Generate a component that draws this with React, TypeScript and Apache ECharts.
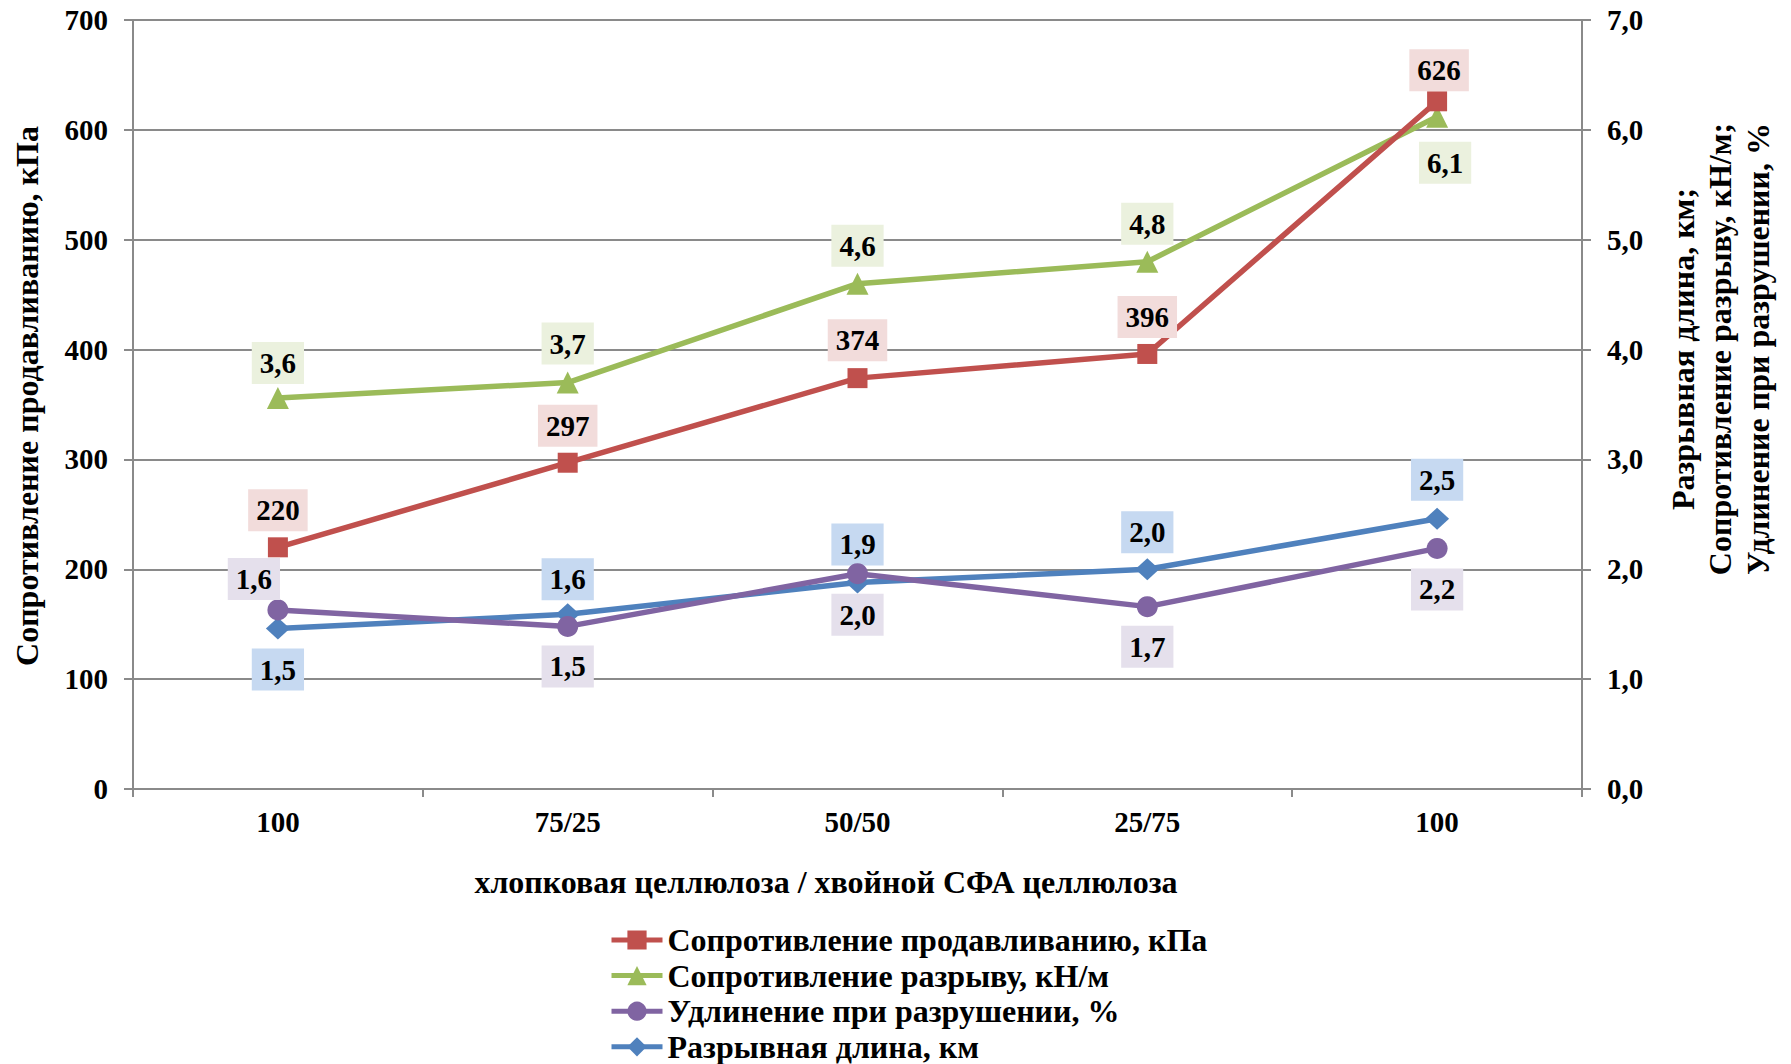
import React, { useEffect, useRef } from "react";
import * as echarts from "echarts";

const FONT = "Liberation Serif";

// ---- data ----
const categories = ["100", "75/25", "50/50", "25/75", "100"];
const burstStrength = [220, 297, 374, 396, 626]; // кПа (left axis)
const tearStrength = [3.56, 3.7, 4.6, 4.8, 6.12]; // кН/м (right axis)
const elongation = [1.63, 1.48, 1.96, 1.66, 2.19]; // % (right axis)
const breakingLength = [1.46, 1.59, 1.88, 2.0, 2.46]; // км (right axis)

const leftTicks = { min: 0, max: 700, interval: 100 };
const rightTicks = { min: 0, max: 7, interval: 1 };

const seriesNames = [
  "Сопротивление продавливанию, кПа",
  "Сопротивление разрыву, кН/м",
  "Удлинение при разрушении, %",
  "Разрывная длина, км",
];

const xTitle = "хлопковая целлюлоза / хвойной СФА целлюлоза";
const leftTitle = "Сопротивление продавливанию, кПа";
const rightTitle = "Разрывная длина, км;\nСопротивление разрыву, кН/м;\nУдлинение при разрушении, %";

// ---- styles ----
const FS = 29;
const FS_TITLE = 32;
const GRID_COLOR = "#8a8a8a";
const colors = ["#C0504D", "#9BBB59", "#8064A2", "#4F81BD"];
const labelBg = ["#F2DCDB", "#EBF1DE", "#E5E0EC", "#C6D9F1"];
const labelDx = [
  [0, 0, 0, 0, 2],
  [0, 0, 0, 0, 8],
  [-24, 0, 0, 0, 0],
  [0, 0, 0, 0, 0],
];
const labelDy = [
  [-37, -37, -38, -37, -31],
  [-35, -39, -38, -38, 46],
  [-31, 40, 41, 40, 41],
  [41, -35, -38, -37, -39],
];

const fmtLeft = (v: number) => String(Math.round(v));
const fmtRight = (v: number) => (Math.round(v * 10) / 10).toFixed(1).replace(".", ",");

export default function App() {
  const ref = useRef<HTMLDivElement>(null);
  useEffect(() => {
    const chart = echarts.init(ref.current!, null, { renderer: "svg" });
    const allData = [burstStrength, tearStrength, elongation, breakingLength];
    const symbols = ["rect", "triangle", "circle", "diamond"];
    const symbolSizes: any[] = [20, 22, 21, [24, 22]];

    const series = allData.map((arr, si) => ({
      name: seriesNames[si],
      type: "line",
      yAxisIndex: si === 0 ? 0 : 1,
      symbol: symbols[si],
      symbolSize: symbolSizes[si],
      showAllSymbol: true,
      lineStyle: { color: colors[si], width: 5.5 },
      itemStyle: { color: colors[si] },
      z: 10 - si,
      data: arr.map((v, i) => ({
        value: v,
        label: {
          show: true,
          position: "inside",
          offset: [labelDx[si][i], labelDy[si][i]],
          formatter: () => (si === 0 ? fmtLeft(v) : fmtRight(v)),
          fontFamily: FONT,
          fontWeight: "bold",
          fontSize: FS,
          lineHeight: 32,
          color: "#000",
          backgroundColor: labelBg[si],
          padding: [5, 8],
        },
      })),
    }));

    const axisText = { fontFamily: FONT, fontWeight: "bold", fontSize: FS, color: "#000" };

    const option: any = {
      animation: false,
      backgroundColor: "#fff",
      textStyle: { fontFamily: FONT },
      grid: { left: 133, top: 20, width: 1449, height: 769, containLabel: false },
      legend: {
        orient: "vertical",
        left: 609,
        top: 924,
        height: 140,
        padding: 0,
        itemWidth: 51,
        itemHeight: 24,
        itemGap: 3.6,
        selectedMode: false,
        data: seriesNames,
        lineStyle: { width: 5 },
        textStyle: { fontFamily: FONT, fontWeight: "bold", fontSize: FS_TITLE, color: "#000", lineHeight: 32 },
      },
      xAxis: {
        type: "category",
        data: categories,
        boundaryGap: true,
        axisLine: { show: true, lineStyle: { color: GRID_COLOR, width: 2 } },
        axisTick: { show: true, length: 8, alignWithLabel: false, lineStyle: { color: GRID_COLOR, width: 2 } },
        axisLabel: { ...axisText, margin: 18 },
        splitLine: { show: false },
      },
      yAxis: [
        {
          type: "value",
          position: "left",
          min: leftTicks.min,
          max: leftTicks.max,
          interval: leftTicks.interval,
          axisLine: { show: true, lineStyle: { color: GRID_COLOR, width: 2 } },
          axisTick: { show: true, length: 9, lineStyle: { color: GRID_COLOR, width: 2 } },
          axisLabel: { ...axisText, margin: 25, formatter: fmtLeft },
          splitLine: { show: true, lineStyle: { color: GRID_COLOR, width: 2 } },
        },
        {
          type: "value",
          position: "right",
          min: rightTicks.min,
          max: rightTicks.max,
          interval: rightTicks.interval,
          axisLine: { show: true, lineStyle: { color: GRID_COLOR, width: 2 } },
          axisTick: { show: true, length: 9, lineStyle: { color: GRID_COLOR, width: 2 } },
          axisLabel: { ...axisText, margin: 25, formatter: fmtRight },
          splitLine: { show: false },
        },
      ],
      graphic: [
        {
          type: "text",
          x: 826,
          y: 882,
          style: {
            text: xTitle,
            fontFamily: FONT,
            fontSize: FS_TITLE,
            fontWeight: "bold",
            fill: "#000",
            align: "center",
            verticalAlign: "middle",
          },
        },
        {
          type: "text",
          x: 27,
          y: 396,
          rotation: Math.PI / 2,
          style: {
            text: leftTitle,
            fontFamily: FONT,
            fontSize: FS_TITLE,
            fontWeight: "bold",
            fill: "#000",
            align: "center",
            verticalAlign: "middle",
          },
        },
        {
          type: "text",
          x: 1720,
          y: 349,
          rotation: Math.PI / 2,
          style: {
            text: rightTitle,
            fontFamily: FONT,
            fontSize: FS_TITLE,
            fontWeight: "bold",
            lineHeight: 37.5,
            fill: "#000",
            align: "center",
            verticalAlign: "middle",
          },
        },
      ],
      series,
    };
    chart.setOption(option);
    return () => chart.dispose();
  }, []);
  return (
    <div
      ref={ref}
      style={{ position: "fixed", left: 0, top: 0, width: 1791, height: 1064, background: "#fff" }}
    />
  );
}
